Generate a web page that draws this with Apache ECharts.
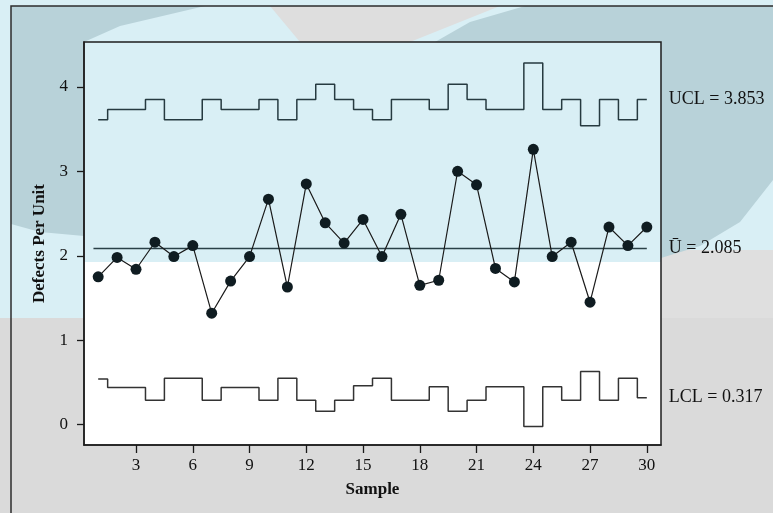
<!DOCTYPE html>
<html>
<head>
<meta charset="utf-8">
<script src="https://cdn.jsdelivr.net/npm/echarts@6/dist/echarts.min.js"></script>
<style>
  html, body { margin: 0; padding: 0; background: #dcdcdc; }
  #main { width: 773px; height: 513px; }
</style>
</head>
<body>
<div id="main"></div>
<script>
// sample numbers
const samples = [1, 2, 3, 4, 5, 6, 7, 8, 9, 10, 11, 12, 13, 14, 15,
                 16, 17, 18, 19, 20, 21, 22, 23, 24, 25, 26, 27, 28, 29, 30];
// defects per unit
const defects = [1.75, 1.98, 1.84, 2.16, 1.99, 2.12, 1.32, 1.70, 1.99, 2.67,
                 1.63, 2.85, 2.39, 2.15, 2.43, 1.99, 2.49, 1.65, 1.71, 3.00,
                 2.84, 1.85, 1.69, 3.26, 1.99, 2.16, 1.45, 2.34, 2.12, 2.34];
// control limits per sample
const ucl = [3.61, 3.73, 3.73, 3.85, 3.61, 3.61, 3.85, 3.73, 3.73, 3.85,
             3.61, 3.85, 4.03, 3.85, 3.73, 3.61, 3.85, 3.85, 3.73, 4.03,
             3.85, 3.73, 3.73, 4.28, 3.73, 3.85, 3.54, 3.85, 3.61, 3.85];
const lcl = [0.54, 0.44, 0.44, 0.29, 0.55, 0.55, 0.29, 0.44, 0.44, 0.29,
             0.55, 0.29, 0.16, 0.29, 0.46, 0.55, 0.29, 0.29, 0.45, 0.16,
             0.29, 0.45, 0.45, -0.02, 0.45, 0.29, 0.63, 0.29, 0.55, 0.32];
const centerLine = 2.085;
const centerRange = [0.75, 30];
const xTicks = [3, 6, 9, 12, 15, 18, 21, 24, 27, 30];
const yTicks = [0, 1, 2, 3, 4];

const serif = "'Liberation Serif', 'DejaVu Serif', serif";

const chart = echarts.init(document.getElementById('main'));

// background watermark shapes
const bg = [
  { type: 'rect', shape: { x: 0, y: 0, width: 773, height: 513 }, style: { fill: '#dadada' } },
  { type: 'rect', shape: { x: 0, y: 0, width: 773, height: 318 }, style: { fill: '#d9eff5' } },
  { type: 'rect', shape: { x: 661, y: 250, width: 112, height: 68 }, style: { fill: '#dfdfdf' } },
  { type: 'polygon', shape: { points: [[270, 6], [500, 6], [410, 42], [300, 42]] }, style: { fill: '#dedede' } },
  { type: 'polygon', shape: { points: [[11, 6], [205, 6], [120, 26], [84, 42], [84, 236], [40, 232], [11, 224]] },
    style: { fill: '#b8d2d9' } },
  { type: 'polygon', shape: { points: [[525, 6], [773, 6], [773, 180], [740, 222], [700, 246], [661, 258], [661, 42], [435, 42], [470, 22]] },
    style: { fill: '#b8d2d9' } },
  { type: 'rect', shape: { x: 84, y: 42, width: 577, height: 220 }, style: { fill: '#d9eff5' } },
  { type: 'rect', shape: { x: 84, y: 262, width: 577, height: 183 }, style: { fill: '#ffffff' } },
  { type: 'rect', shape: { x: 11, y: 6, width: 800, height: 560 }, style: { fill: 'none', stroke: '#2d2d2d', lineWidth: 1.5 } }
].map(e => Object.assign(e, { z: -100, silent: true }));

const labelFont = { fontFamily: serif, fontSize: 18, color: '#111' };
const tickStyle = { color: '#1a1a1a', width: 1.3 };

const option = {
  animation: false,
  backgroundColor: '#dadada',
  graphic: { elements: bg },
  grid: {
    left: 84, top: 42, width: 577, height: 403,
    show: true, borderColor: '#1e1e1e', borderWidth: 1.5,
    backgroundColor: 'transparent'
  },
  xAxis: {
    type: 'value',
    min: 0.25, max: 30.75,
    name: 'Sample',
    nameLocation: 'middle',
    nameGap: 36,
    nameTextStyle: { fontFamily: serif, fontSize: 17, fontWeight: 'bold', color: '#111' },
    axisLine: { show: true, onZero: false, lineStyle: { color: '#1e1e1e', width: 1.5 } },
    splitLine: { show: false },
    axisTick: { show: true, length: 8, customValues: xTicks, lineStyle: tickStyle },
    axisLabel: { customValues: xTicks, margin: 12, fontFamily: serif, fontSize: 17, color: '#111' }
  },
  yAxis: {
    type: 'value',
    min: -0.24, max: 4.53,
    name: 'Defects Per Unit',
    nameLocation: 'middle',
    nameGap: 36,
    nameTextStyle: { fontFamily: serif, fontSize: 17, fontWeight: 'bold', color: '#111' },
    axisLine: { show: true, onZero: false, lineStyle: { color: '#1e1e1e', width: 1.5 } },
    splitLine: { show: false },
    axisTick: { show: true, length: 7, customValues: yTicks, lineStyle: tickStyle },
    axisLabel: { customValues: yTicks, margin: 16, fontFamily: serif, fontSize: 17, color: '#111' }
  },
  series: [
    {
      type: 'line', step: 'middle', symbol: 'none',
      data: samples.map((s, i) => [s, ucl[i]]),
      lineStyle: { color: '#263a40', width: 1.5 },
      endLabel: Object.assign({ show: true, formatter: 'UCL = 3.853', distance: 22 }, labelFont)
    },
    {
      type: 'line', step: 'middle', symbol: 'none',
      data: samples.map((s, i) => [s, lcl[i]]),
      lineStyle: { color: '#333', width: 1.5 },
      endLabel: Object.assign({ show: true, formatter: 'LCL = 0.317', distance: 22 }, labelFont)
    },
    {
      type: 'line', symbol: 'none',
      data: centerRange.map(x => [x, centerLine]),
      lineStyle: { color: '#2a4047', width: 1.5 },
      endLabel: Object.assign({ show: true, formatter: 'Ū = 2.085', distance: 22 }, labelFont)
    },
    {
      type: 'line', symbol: 'circle', symbolSize: 11,
      data: samples.map((s, i) => [s, defects[i]]),
      lineStyle: { color: '#1a1a1a', width: 1.2 },
      itemStyle: { color: '#0f1c21' },
      z: 5
    }
  ]
};

chart.setOption(option);
</script>
</body>
</html>
